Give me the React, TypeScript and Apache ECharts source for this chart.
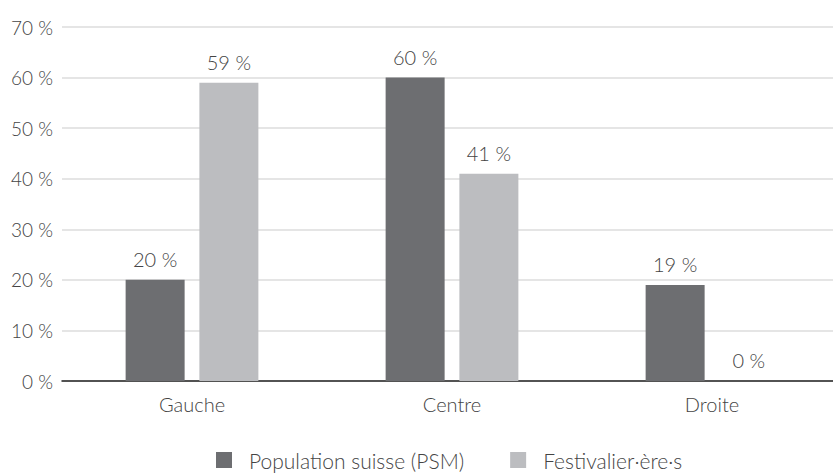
import React, { useEffect, useRef } from "react";
import * as echarts from "echarts";

const categories = ["Gauche", "Centre", "Droite"];
const populationSuisse = [20, 60, 19];
const festivaliers = [59, 41, 0];
const seriesNames = ["Population suisse (PSM)", "Festivalier·ère·s"];

const FONT = "Lato, sans-serif";
const TXT = "#444";

export default function App() {
  const ref = useRef<HTMLDivElement>(null);
  useEffect(() => {
    const chart = echarts.init(ref.current!, null, { renderer: "svg" });
    const label = {
      show: true,
      position: "top",
      distance: 11,
      formatter: (p: any) => `${p.value} %`,
      color: TXT,
      fontFamily: FONT,
      fontWeight: 300,
      fontSize: 20,
    };
    chart.setOption({
      animation: false,
      grid: { left: 62, width: 780, top: 27, bottom: 92, outerBoundsMode: "none", containLabel: false },
      legend: {
        top: 449,
        left: 216,
        itemWidth: 16,
        itemHeight: 16,
        itemGap: 46,
        padding: 0,
        icon: "rect",
        textStyle: { color: TXT, fontFamily: FONT, fontWeight: 300, fontSize: 21, lineHeight: 22, padding: [0, 0, 0, 12] },
        data: seriesNames,
      },
      xAxis: {
        type: "category",
        data: categories,
        axisLine: { lineStyle: { color: "#222", width: 1.5 } },
        axisTick: { show: false },
        axisLabel: { color: TXT, fontFamily: FONT, fontWeight: 300, fontSize: 20, margin: 13 },
      },
      yAxis: {
        type: "value",
        min: 0,
        max: 70,
        interval: 10,
        axisLabel: {
          formatter: (v: number) => `${v} %`,
          color: TXT,
          fontFamily: FONT,
          fontWeight: 300,
          fontSize: 19,
          margin: 9,
        },
        splitLine: { lineStyle: { color: "#ddd", width: 1.5 } },
        axisLine: { show: false },
        axisTick: { show: false },
      },
      series: [
        {
          name: seriesNames[0],
          type: "bar",
          data: populationSuisse,
          barWidth: 59,
          barGap: "25%",
          itemStyle: { color: "#6d6e71" },
          label,
        },
        {
          name: seriesNames[1],
          type: "bar",
          data: festivaliers,
          barWidth: 59,
          barGap: "25%",
          itemStyle: { color: "#bcbdc0" },
          label,
        },
      ],
    });
    return () => chart.dispose();
  }, []);
  return <div ref={ref} style={{ width: 833, height: 473, position: "absolute", left: 0, top: 0, overflow: "hidden" }} />;
}
